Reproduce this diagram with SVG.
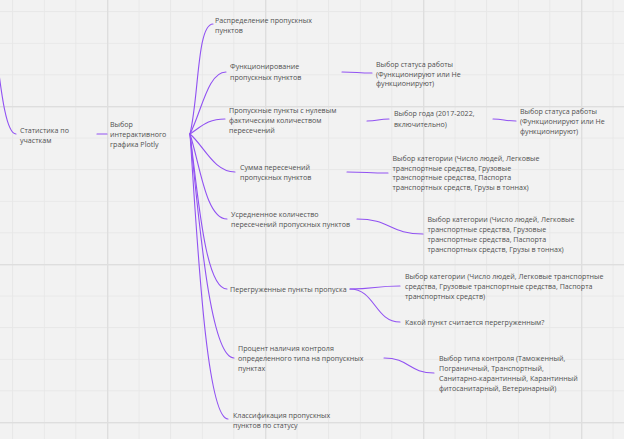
<svg xmlns="http://www.w3.org/2000/svg" width="624" height="439" viewBox="0 0 624 439">
<defs>
<style>
.t{font-family:"Open Sans","Noto Sans","Liberation Sans",sans-serif;font-size:7.1px;fill:#505050}
.c{fill:none;stroke:#9152f2;stroke-width:1.1;stroke-linecap:round}
</style>
<pattern id="grid" x="107" y="106" width="158" height="158" patternUnits="userSpaceOnUse">
<rect x="31.6" y="0" width="0.9" height="158" fill="#e7e7e7"/>
<rect x="63.2" y="0" width="0.9" height="158" fill="#e7e7e7"/>
<rect x="94.8" y="0" width="0.9" height="158" fill="#e7e7e7"/>
<rect x="126.4" y="0" width="0.9" height="158" fill="#e7e7e7"/>
<rect x="0" y="31.6" width="158" height="0.9" fill="#e7e7e7"/>
<rect x="0" y="63.2" width="158" height="0.9" fill="#e7e7e7"/>
<rect x="0" y="94.8" width="158" height="0.9" fill="#e7e7e7"/>
<rect x="0" y="126.4" width="158" height="0.9" fill="#e7e7e7"/>
<rect x="0" y="0" width="1.4" height="158" fill="#dedede"/>
<rect x="0" y="0" width="158" height="1.4" fill="#dedede"/>
</pattern>
</defs>
<rect width="624" height="439" fill="#f2f2f2"/>
<rect width="624" height="439" fill="url(#grid)"/>
<g id="connectors">
<path class="c" d="M-10,10 C-2,50 2,134 16,134"/>
<path class="c" d="M97,134 L107,134"/>
<path class="c" d="M190,134 C199,96 197,24 213,24"/>
<path class="c" d="M190,134 C202,110 208,72 226,72"/>
<path class="c" d="M190,134 C202,126 208,119 225,119"/>
<path class="c" d="M190,134 C204,146 214,172 235,172"/>
<path class="c" d="M190,134 C200,165 206,219 227,219"/>
<path class="c" d="M190,134 C198,195 205,289 227,289"/>
<path class="c" d="M190,134 C199,220 210,358 234,358"/>
<path class="c" d="M190,134 C197,235 206,419 228,419"/>
<path class="c" d="M342,72 C357,72 357,73 372,73"/>
<path class="c" d="M367,121 C378,121 378,119 389,119"/>
<path class="c" d="M493,119 C504,119 504,121 516,121"/>
<path class="c" d="M347,172 C367,172 367,173 388,173"/>
<path class="c" d="M357,219 C390,219 390,234 423,234"/>
<path class="c" d="M350,289 C375,289 375,286 400,286"/>
<path class="c" d="M350,289 C375,289 375,322 400,322"/>
<path class="c" d="M384,358 C409,358 409,373 434,373"/>
</g>
<g id="n-stat"><text class="t" x="20" y="132.5">Статистика по</text><text class="t" x="20" y="142.5">участкам</text></g>
<g id="n-plotly"><text class="t" x="110" y="126.8">Выбор</text><text class="t" x="110" y="136.8">интерактивного</text><text class="t" x="110" y="146.8">графика Plotly</text></g>
<g id="n-raspr"><text class="t" x="215" y="22.5">Распределение пропускных</text><text class="t" x="215" y="32.5">пунктов</text></g>
<g id="n-func"><text class="t" x="230" y="69.3">Функционирование</text><text class="t" x="230" y="79.6">пропускных пунктов</text></g>
<g id="n-zero"><text class="t" x="229" y="113.2">Пропускные пункты с нулевым</text><text class="t" x="229" y="123.2">фактическим количеством</text><text class="t" x="229" y="133.2">пересечений</text></g>
<g id="n-sum"><text class="t" x="240" y="169.5">Сумма пересечений</text><text class="t" x="240" y="179.5">пропускных пунктов</text></g>
<g id="n-avg"><text class="t" x="231" y="216.8">Усредненное количество</text><text class="t" x="231" y="226.8">пересечений пропускных пунктов</text></g>
<g id="n-over"><text class="t" x="230" y="291.5">Перегруженные пункты пропуска</text></g>
<g id="n-pct"><text class="t" x="238" y="350.8">Процент наличия контроля</text><text class="t" x="238" y="360.8">определенного типа на пропускных</text><text class="t" x="238" y="370.8">пунктах</text></g>
<g id="n-class"><text class="t" x="233" y="417.5">Классификация пропускных</text><text class="t" x="233" y="427.5">пунктов по статусу</text></g>
<g id="n-status1"><text class="t" x="376" y="66.8">Выбор статуса работы</text><text class="t" x="376" y="76.6">(Функционируют или Не</text><text class="t" x="376" y="86.3">функционируют)</text></g>
<g id="n-year"><text class="t" x="394" y="116.2">Выбор года (2017-2022,</text><text class="t" x="394" y="126.5">включительно)</text></g>
<g id="n-status2"><text class="t" x="520" y="114.2">Выбор статуса работы</text><text class="t" x="520" y="124.2">(Функционируют или Не</text><text class="t" x="520" y="134.2">функционируют)</text></g>
<g id="n-cat1"><text class="t" x="392.5" y="160.8">Выбор категории (Число людей, Легковые</text><text class="t" x="392.5" y="170.5">транспортные средства, Грузовые</text><text class="t" x="392.5" y="180.2">транспортные средства, Паспорта</text><text class="t" x="392.5" y="189.8">транспортных средств, Грузы в тоннах)</text></g>
<g id="n-cat2"><text class="t" x="427.5" y="221.5">Выбор категории (Число людей, Легковые</text><text class="t" x="427.5" y="231.8">транспортные средства, Грузовые</text><text class="t" x="427.5" y="241.8">транспортные средства, Паспорта</text><text class="t" x="427.5" y="251.8">транспортных средств, Грузы в тоннах)</text></g>
<g id="n-cat3"><text class="t" x="405" y="278.5">Выбор категории (Число людей, Легковые транспортные</text><text class="t" x="405" y="288.5">средства, Грузовые транспортные средства, Паспорта</text><text class="t" x="405" y="299.2">транспортных средств)</text></g>
<g id="n-which"><text class="t" x="405" y="324.5">Какой пункт считается перегруженным?</text></g>
<g id="n-ctrl"><text class="t" x="439" y="360.5">Выбор типа контроля (Таможенный,</text><text class="t" x="439" y="370.8">Пограничный, Транспортный,</text><text class="t" x="439" y="380.8">Санитарно-карантинный, Карантинный</text><text class="t" x="439" y="391.2">фитосанитарный, Ветеринарный)</text></g>
</svg>
